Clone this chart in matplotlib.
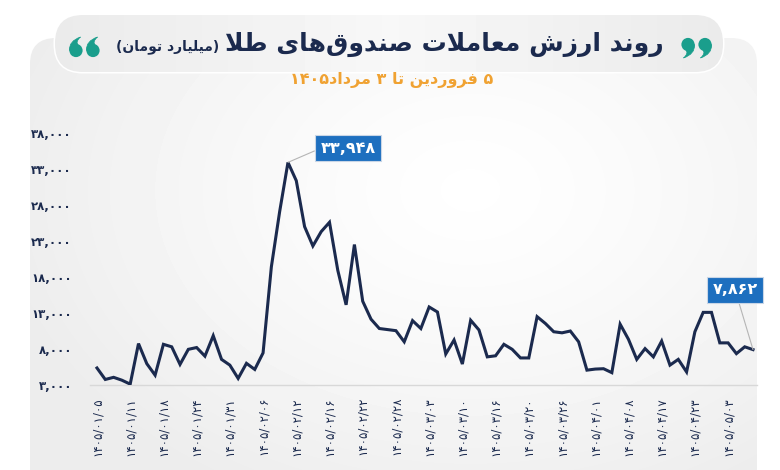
import numpy as np
import matplotlib
matplotlib.use('Agg')
import matplotlib.pyplot as plt
from matplotlib.patches import FancyBboxPatch, Circle, PathPatch
from matplotlib.path import Path

# data (billion toman), one value per trading day
dates = ['1405/01/05', '1405/01/11', '1405/01/18', '1405/01/24', '1405/01/31',
         '1405/02/06', '1405/02/12', '1405/02/16', '1405/02/22', '1405/02/28',
         '1405/03/03', '1405/03/10', '1405/03/16', '1405/03/20', '1405/03/26',
         '1405/04/01', '1405/04/08', '1405/04/17', '1405/04/23', '1405/05/03']
values = [5300, 3700, 4000, 3600, 3050, 8700, 5900, 4300, 8600, 8250,
          5800, 7900, 8150, 6950, 9800, 6500, 5700, 3850, 5950, 5100,
          7400, 19400, 27100, 33948, 31400, 25000, 22300, 24300, 25600, 18900,
          14100, 22500, 14600, 12100, 10800, 10650, 10500, 8950, 11900, 10800,
          13800, 13100, 7250, 9200, 5850, 11950, 10600, 6850, 7000, 8600,
          7900, 6700, 6700, 12450, 11500, 10350, 10200, 10450, 8950, 5000,
          5150, 5200, 4650, 11400, 9300, 6500, 8000, 6850, 9050, 5700,
          6500, 4750, 10350, 13050, 13050, 8800, 8800, 7300, 8250, 7862]
yticks = [3000, 8000, 13000, 18000, 23000, 28000, 33000, 38000]

title = 'روند ارزش معاملات صندوق\u200cهای طلا'
unit = '(میلیارد تومان)'
subtitle = '۵ فروردین تا ۳ مرداد۱۴۰۵'

NAVY = '#1b2a4e'
TEAL = '#1a9e8c'
ORANGE = '#f0a232'
BLUE = '#1d6fbf'

# --- minimal arabic shaping (matplotlib has no RTL/joining support) ---
FORMS = {
    'ا': ('\uFE8D', '\uFE8E', None, None),
    'د': ('\uFEA9', '\uFEAA', None, None),
    'ر': ('\uFEAD', '\uFEAE', None, None),
    'ز': ('\uFEAF', '\uFEB0', None, None),
    'و': ('\uFEED', '\uFEEE', None, None),
    'ت': ('\uFE95', '\uFE96', '\uFE97', '\uFE98'),
    'ش': ('\uFEB5', '\uFEB6', '\uFEB7', '\uFEB8'),
    'ص': ('\uFEB9', '\uFEBA', '\uFEBB', '\uFEBC'),
    'ط': ('\uFEC1', '\uFEC2', '\uFEC3', '\uFEC4'),
    'ع': ('\uFEC9', '\uFECA', '\uFECB', '\uFECC'),
    'ف': ('\uFED1', '\uFED2', '\uFED3', '\uFED4'),
    'ق': ('\uFED5', '\uFED6', '\uFED7', '\uFED8'),
    'ل': ('\uFEDD', '\uFEDE', '\uFEDF', '\uFEE0'),
    'م': ('\uFEE1', '\uFEE2', '\uFEE3', '\uFEE4'),
    'ن': ('\uFEE5', '\uFEE6', '\uFEE7', '\uFEE8'),
    'ه': ('\uFEE9', '\uFEEA', '\uFEEB', '\uFEEC'),
    'ی': ('\uFBFC', '\uFBFD', '\uFBFE', '\uFBFF'),
}
FA_DIGITS = '۰۱۲۳۴۵۶۷۸۹'


def fa(s):
    return ''.join(FA_DIGITS[int(c)] if c.isdigit() and c < ':' else c for c in s)


def shape(text):
    out = []
    i = 0
    while i < len(text):
        c = text[i]
        if c not in FORMS:
            if c != '\u200c':
                out.append(c)
            i += 1
            continue
        prev = text[i - 1] if i > 0 else None
        nxt = text[i + 1] if i + 1 < len(text) else None
        jp = prev in FORMS and FORMS[prev][2] is not None
        if c == 'ل' and nxt == 'ا':
            out.append('\uFEFC' if jp else '\uFEFB')
            i += 2
            continue
        jn = nxt in FORMS and FORMS[c][2] is not None
        iso, fin, ini, med = FORMS[c]
        if jp and jn:
            out.append(med)
        elif jp:
            out.append(fin)
        elif jn:
            out.append(ini)
        else:
            out.append(iso)
        i += 1
    return ''.join(out)


def rtl(text):
    s = shape(text)
    runs, cur, isnum = [], '', None
    for ch in s:
        d = ch in FA_DIGITS or ch.isdigit()
        if isnum is None or d == isnum:
            cur += ch
        else:
            runs.append((cur, isnum))
            cur = ch
        isnum = d
    runs.append((cur, isnum))
    res = ''
    for r, num in reversed(runs):
        res += r if num else r[::-1]
    return res.translate(str.maketrans('()', ')('))


def quote_mark(axis, cx, cy, sign):
    # ball + curved tail; sign=+1 gives a "9", sign=-1 a "6"
    pts = [(6.6, 0), (7.2, 9.5), (-4.5, 13.5), (1.2, 8.5), (-2.5, 5.2), (0, 0)]
    verts = [(cx + sign * dx, cy + sign * dy) for dx, dy in pts]
    codes = [Path.MOVETO, Path.CURVE3, Path.CURVE3, Path.CURVE3, Path.CURVE3,
             Path.CLOSEPOLY]
    axis.add_patch(PathPatch(Path(verts, codes), fc=TEAL, ec=TEAL, lw=0.5, zorder=3))
    axis.add_patch(Circle((cx, cy), 6.6, fc=TEAL, ec='none', zorder=3))


W, H = 780, 470
fig = plt.figure(figsize=(7.8, 4.7), dpi=100)
fig.patch.set_facecolor('white')

# background panel + title pill (pixel coords, y down)
bg = fig.add_axes([0, 0, 1, 1])
bg.set_xlim(0, W)
bg.set_ylim(H, 0)
bg.axis('off')

yy, xx = np.mgrid[0:H, 0:W]
dist = np.hypot((xx - 470) / 1.4, yy - 190)
shade = 0.998 - 0.07 * np.clip(dist / 340, 0, 1) ** 1.3

panel = FancyBboxPatch((30, 38), 727, 460, boxstyle='round,pad=0,rounding_size=26',
                       fc='none', ec='none')
bg.add_patch(panel)
im = bg.imshow(shade, cmap='gray', vmin=0, vmax=1, extent=(0, W, H, 0),
               interpolation='bilinear', zorder=0)
im.set_clip_path(panel)

pill = FancyBboxPatch((55, 15), 668, 57, boxstyle='round,pad=0,rounding_size=28',
                      fc='#ececec', ec='white', lw=2.2, zorder=2)
bg.add_patch(pill)
pshade = 0.97 - 0.05 * np.clip(np.abs(xx - 390) / 330, 0, 1)
im2 = bg.imshow(pshade, cmap='gray', vmin=0, vmax=1, extent=(0, W, H, 0),
                interpolation='bilinear', zorder=2.5)
im2.set_clip_path(pill)

quote_mark(bg, 76, 50.5, -1)
quote_mark(bg, 93, 50.5, -1)
quote_mark(bg, 688, 44.5, 1)
quote_mark(bg, 705, 44.5, 1)

AR = ['DejaVu Sans']
t_main = bg.text(664, 44, rtl(title), color=NAVY, fontsize=18, fontweight='bold',
                 ha='right', va='center', family=AR, zorder=3)
r = fig.canvas.get_renderer()
left_px = t_main.get_window_extent(r).x0
bg.text(left_px - 6, 47, rtl(unit), color=NAVY, fontsize=10, fontweight='bold',
        ha='right', va='center', family=AR, zorder=3)
bg.text(392, 80, rtl(subtitle), color=ORANGE, fontsize=11.5, fontweight='bold',
        ha='center', va='center', family=AR, zorder=3)

# chart
ax = fig.add_axes([90 / W, 1 - 384.5 / H, 667 / W, 251.2 / H])
ax.set_facecolor('none')
x = np.arange(len(values))
ax.plot(x, values, color=NAVY, lw=2.2, solid_joinstyle='miter', zorder=3)
ax.set_xlim(-0.84, len(values) - 0.52)
ax.set_ylim(3000, 38000)

for s in ['top', 'right', 'left']:
    ax.spines[s].set_visible(False)
ax.spines['bottom'].set_color('#d8d8d8')
ax.spines['bottom'].set_linewidth(1)

ax.set_yticks(yticks)
ax.set_yticklabels([fa(f'{v:,}') for v in yticks], family=AR, fontsize=8.5,
                   fontweight='bold', color=NAVY)
ax.set_xticks(x[::4])
ax.set_xticklabels([fa(d) for d in dates], rotation=90, family=AR, fontsize=8.5,
                   color=NAVY, va='top')
ax.tick_params(axis='both', length=0)
ax.tick_params(axis='y', pad=13)
ax.tick_params(axis='x', pad=9)

box = dict(boxstyle='square,pad=0.35', fc=BLUE, ec='#c9d6e6', lw=0.8)
peak = int(np.argmax(values))
ax.annotate(fa(f'{values[peak]:,}'), (x[peak], values[peak]), xytext=(60, 14),
            textcoords='offset pixels', ha='center', va='center', color='white',
            fontsize=11.5, fontweight='bold', family=AR, bbox=box,
            arrowprops=dict(arrowstyle='-', color='#b5b5b5', lw=0.8,
                            relpos=(0, 0.5), shrinkA=0, shrinkB=0), zorder=5)
ax.annotate(fa(f'{values[-1]:,}'), (x[-1], values[-1]), xytext=(-18, 60),
            textcoords='offset pixels', ha='center', va='center', color='white',
            fontsize=11.5, fontweight='bold', family=AR, bbox=box,
            arrowprops=dict(arrowstyle='-', color='#b5b5b5', lw=0.8,
                            relpos=(0.55, 0), shrinkA=0, shrinkB=0), zorder=5)

fig.savefig('out.png', dpi=100)
